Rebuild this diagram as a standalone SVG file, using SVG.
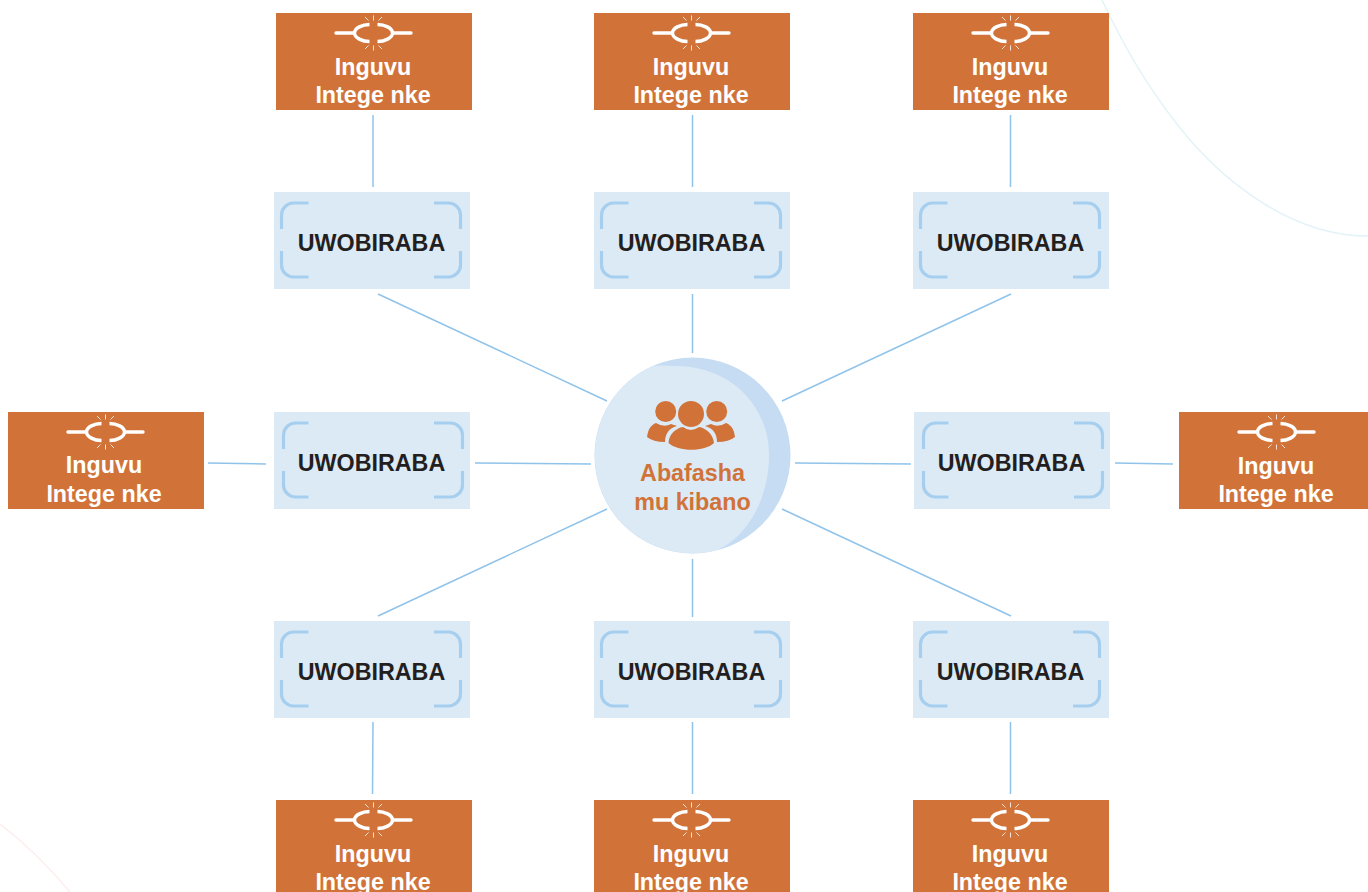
<svg xmlns="http://www.w3.org/2000/svg" width="1368" height="892" viewBox="0 0 1368 892">
<style>
text{font-family:"Liberation Sans",Arial,sans-serif;font-weight:700;font-size:23.300px;text-anchor:middle}
.o{fill:#d17339}
.b{fill:#dceaf6}
.w{fill:#fff}
.d{fill:#231f20}
.c{fill:none;stroke:#90c3ea;stroke-width:1.5}
.br{fill:none;stroke:#a6cfef;stroke-width:3.200}
.lk{fill:none;stroke:#fff;stroke-width:3.400}
.ln{fill:none;stroke:#fff;stroke-width:3.400;stroke-linecap:round}
.ry{fill:none;stroke:#fff;stroke-width:1;opacity:.8}
.bg{fill:none;stroke-width:1.5}
</style>
<defs>
<g id="icon">
<path class="lk" d="M-4,-8.500C-11,-8.500-19,-5-19,0C-19,5-11,8.500-4,8.500M4,-8.500C11,-8.500 19,-5 19,0C19,5 11,8.500 4,8.500"/>
<path class="ln" d="M-37.500,0H-19M37.500,0H19"/>
<path class="ry" d="M0,-17.500V-12.500M-8.500,-16L-5,-12.500M8.500,-16L5,-12.500M0,12.500V17.500M-8.500,16L-5,12.500M8.500,16L5,12.500"/>
</g>
<g id="orange">
<rect class="o" width="196" height="97"/>
<use href="#icon" x="97.500" y="20"/>
<text class="w" x="97" y="61.500">Inguvu</text>
<text class="w" x="97" y="89.500">Intege nke</text>
</g>
<g id="oside">
<rect class="o" width="196" height="97"/>
<use href="#icon" x="97.500" y="20"/>
<text class="w" x="96" y="60.500">Inguvu</text>
<text class="w" x="96" y="89.500">Intege nke</text>
</g>
<g id="blue">
<rect class="b" width="196" height="97"/>
<path class="br" d="M7.500,37V23A12,12 0 0 1 19.500,11H34.500M160,11H174.500A12,12 0 0 1 186.500,23V37M7.500,59V73A12,12 0 0 0 19.500,85H34.500M160,85H174.500A12,12 0 0 0 186.500,73V59"/>
<text class="d" x="97.500" y="58.700">UWOBIRABA</text>
</g>
<g id="bluemid">
<rect class="b" width="196" height="97"/>
<path class="br" d="M9.500,37V23A12,12 0 0 1 21.500,11H34.500M160,11H176.500A12,12 0 0 1 188.500,23V37M9.500,59V73A12,12 0 0 0 21.500,85H34.500M160,85H176.500A12,12 0 0 0 188.500,73V59"/>
<text class="d" x="97.500" y="58.700">UWOBIRABA</text>
</g>
</defs>
<rect width="1368" height="892" fill="#fff"/>
<path class="bg" stroke="#e3f3f7" d="M1102,0C1130,60 1160,105 1190,140C1225,180 1290,236 1368,236"/>
<path class="bg" stroke="#fdeeee" d="M0,824C25,843 50,868 70,892"/>
<g id="connectors">
<path class="c" d="M373,115V187M692.500,115V187M1010.500,115V187M378,294L607,401M692.500,294V353M1011,294L782,401M208,463L266,464M475,463L591,464M795,463L911,464M1115,463L1173,464M607,509L378,616M692.500,559V617M782,509L1011,616M373,722L372.500,794M692.500,722V794M1010.500,722V794"/>
</g>
<g id="res-top-1"><use href="#orange" x="276" y="13"/></g>
<g id="res-top-2"><use href="#orange" x="594" y="13"/></g>
<g id="res-top-3"><use href="#orange" x="913" y="13"/></g>
<g id="res-left"><use href="#oside" x="8" y="412"/></g>
<g id="res-right"><use href="#orange" x="1179" y="412"/></g>
<g id="res-bot-1"><use href="#orange" x="276" y="800"/></g>
<g id="res-bot-2"><use href="#orange" x="594" y="800"/></g>
<g id="res-bot-3"><use href="#orange" x="913" y="800"/></g>
<g id="sup-top-1"><use href="#blue" x="274" y="192"/></g>
<g id="sup-top-2"><use href="#blue" x="594" y="192"/></g>
<g id="sup-top-3"><use href="#blue" x="913" y="192"/></g>
<g id="sup-mid-1"><use href="#bluemid" x="274" y="412"/></g>
<g id="sup-mid-2"><use href="#bluemid" x="914" y="412"/></g>
<g id="sup-bot-1"><use href="#blue" x="274" y="621"/></g>
<g id="sup-bot-2"><use href="#blue" x="594" y="621"/></g>
<g id="sup-bot-3"><use href="#blue" x="913" y="621"/></g>
<g id="center">
<circle cx="692.500" cy="455.500" r="98" fill="#c5dcf2"/>
<path class="b" d="M652,366.300A98,98 0 0 0 716,550.600C748,537 769,498 769,455C769,405 730,366 675,366C667,366 659,364.500 652,366.300Z"/>
<g class="o">
<circle cx="691" cy="414" r="13"/>
<circle cx="665.700" cy="411.500" r="10.500"/>
<circle cx="716.700" cy="411.500" r="10.500"/>
<path d="M668.500,443C669,434 676,428 683,427Q691,433 699,427C706,428 713,434 714,443C705,452 678,452 668.500,443Z"/>
<path d="M647,437C648,429 651,425 656,423Q664,428 671,424L677,426C669,428 665,434 665,442Q653,442 647,437Z"/>
<path d="M735,437C734,429 731,425 726,423Q718,428 711,424L705,426C713,428 717,434 717,442Q729,442 735,437Z"/>
</g>
<text class="o" x="692.500" y="480.500">Abafasha</text>
<text class="o" x="692.500" y="509.500">mu kibano</text>
</g>
</svg>
